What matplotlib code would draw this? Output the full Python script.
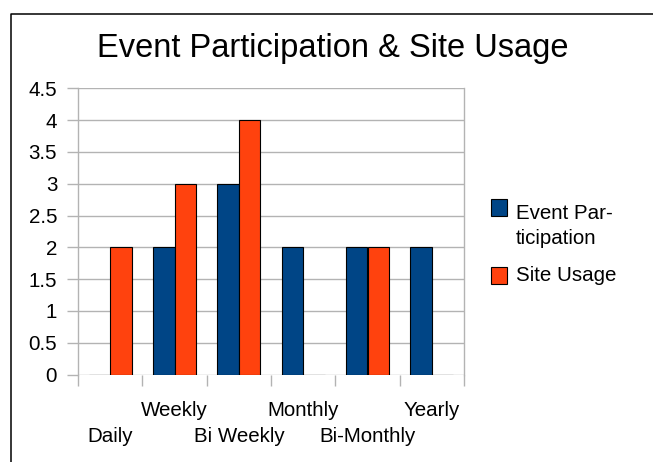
import matplotlib
matplotlib.use("Agg")
import matplotlib.pyplot as plt
from matplotlib.lines import Line2D
from matplotlib.patches import Rectangle
import numpy as np

plt.rcParams['font.family'] = ['Liberation Sans', 'DejaVu Sans']

title = "Event Participation & Site Usage"
categories = ["Daily", "Weekly", "Bi Weekly", "Monthly", "Bi-Monthly", "Yearly"]
event_participation = [0, 2, 3, 2, 2, 2]
site_usage = [2, 3, 4, 0, 2, 0]
series_labels = ["Event Par-\nticipation", "Site Usage"]
series_colors = ["#004586", "#ff420e"]
yticks = [0, 0.5, 1, 1.5, 2, 2.5, 3, 3.5, 4, 4.5]

W, H = 653, 462
fig = plt.figure(figsize=(W / 100, H / 100), dpi=100)

def fx(px):
    return px / W

def fy(py):
    return 1 - py / H

ax = fig.add_axes([fx(78), fy(374.5), fx(464) - fx(78), fy(88.3) - fy(374.5)])

x = np.arange(len(categories))
bw = 0.335
grid_c = "#b3b3b3"
ax.bar(x - bw / 2, event_participation, bw, color=series_colors[0],
       edgecolor="black", linewidth=0.8, zorder=3)
ax.bar(x + bw / 2, site_usage, bw, color=series_colors[1],
       edgecolor="black", linewidth=0.8, zorder=3)

ax.set_xlim(-0.5, len(categories) - 0.5)
ax.set_ylim(0, 4.5)
ax.set_yticks(yticks)
ax.set_yticklabels([f"{v:g}" for v in yticks])
ax.yaxis.grid(True, color=grid_c, linewidth=1.0, zorder=0)
ax.set_axisbelow(True)
for s in ax.spines.values():
    s.set_color(grid_c)
    s.set_linewidth(1.0)
ax.spines['bottom'].set_visible(False)
ax.spines['top'].set_visible(False)

ax.tick_params(axis='y', length=8, width=1.0, color=grid_c, pad=7,
               labelsize=14.8, labelcolor="black")

ax.set_xticks(x)
ax.set_xticklabels(categories)
ax.set_xticks(np.arange(len(categories) + 1) - 0.5, minor=True)
ax.tick_params(axis='x', which='major', length=0, labelsize=14.8, labelcolor="black")
ax.tick_params(axis='x', which='minor', length=8, width=1.0, color=grid_c)
for i, t in enumerate(ax.xaxis.get_major_ticks()):
    t.set_pad(38 if i % 2 == 0 else 19)

fig.text(fx(333), fy(57), title, ha='center', va='baseline', fontsize=23.5)

# legend (drawn manually)
sq = 16.5
leg_rows = [(199, [219, 243.5]), (267, [281])]
for (top, baselines), lab, col in zip(leg_rows, series_labels, series_colors):
    fig.add_artist(Rectangle((fx(490.5), fy(top + sq)), fx(sq), fy(0) - fy(sq),
                             transform=fig.transFigure, facecolor=col,
                             edgecolor="black", linewidth=0.8))
    for line, b in zip(lab.split("\n"), baselines):
        fig.text(fx(515.5), fy(b), line, ha='left', va='baseline', fontsize=14.8)

# outer frame (top and left edges visible)
fig.add_artist(Line2D([fx(11.3), fx(11.3), fx(700)], [fy(500), fy(14.3), fy(14.3)],
                      transform=fig.transFigure, color="black", linewidth=1.1))

fig.savefig("out.png", dpi=100)
